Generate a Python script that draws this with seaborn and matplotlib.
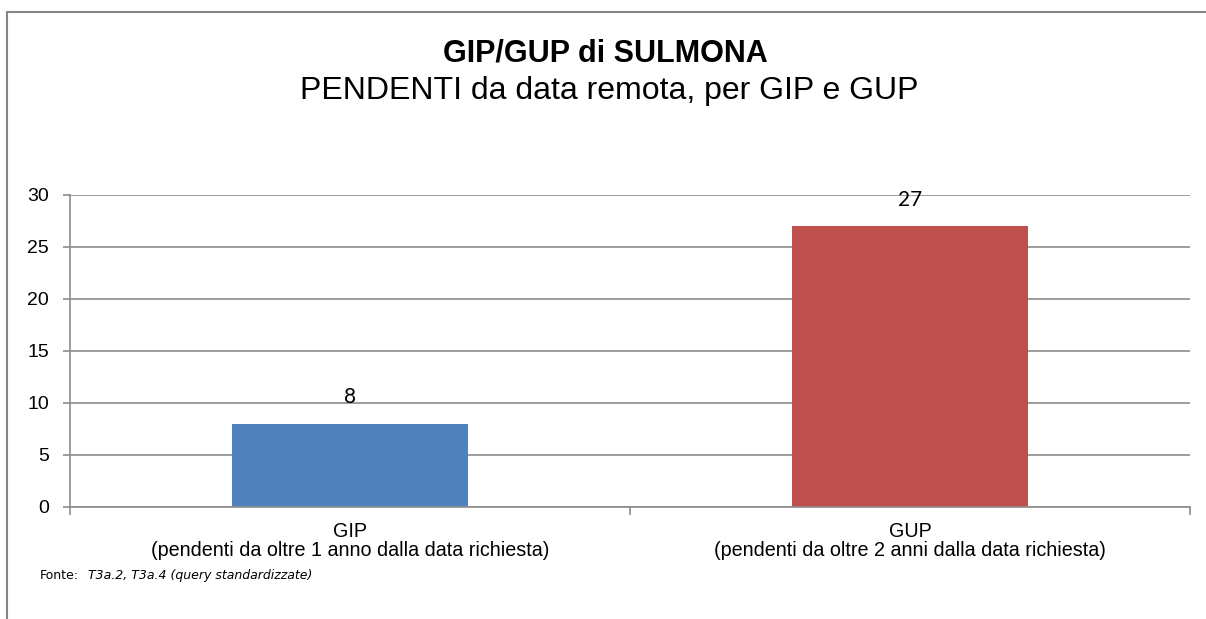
import matplotlib
matplotlib.use("Agg")
import matplotlib.pyplot as plt
from matplotlib.lines import Line2D
import seaborn as sns
import pandas as pd

# data
categories = ["GIP\n(pendenti da oltre 1 anno dalla data richiesta)",
              "GUP\n(pendenti da oltre 2 anni dalla data richiesta)"]
values = [8, 27]
bar_colors = ["#4F81BD", "#C0504D"]
y_ticks = [0, 5, 10, 15, 20, 25, 30]

title = "GIP/GUP di SULMONA"
subtitle = "PENDENTI da data remota, per GIP e GUP"

sns.set_theme(style="white")
plt.rcParams['font.family'] = ['Liberation Sans', 'DejaVu Sans']
plt.rcParams['text.color'] = 'black'
plt.rcParams['xtick.color'] = 'black'
plt.rcParams['ytick.color'] = 'black'

df = pd.DataFrame({"categoria": categories, "valore": values})

fig = plt.figure(figsize=(12.06, 6.19), dpi=100)
ax = fig.add_axes([0.058, 0.181, 0.9287, 0.504])

sns.barplot(data=df, x="categoria", y="valore", hue="categoria",
            palette=bar_colors, width=0.42, saturation=1, legend=False,
            linewidth=0, edgecolor="none", ax=ax)

ax.set_xlim(-0.5, 1.5)
ax.set_ylim(0, 30)
ax.set_yticks(y_ticks)
ax.yaxis.grid(True, color="#8c8c8c", linewidth=1.2)
ax.set_axisbelow(True)
ax.set_xlabel("")
ax.set_ylabel("")

# category boundaries carry the tick marks, labels sit in the middle
ax.set_xticks([-0.5, 0.5, 1.5])
ax.set_xticklabels([])
ax.set_xticks([0, 1], minor=True)
ax.set_xticklabels(categories, minor=True, fontsize=14.2, linespacing=0.97)
ax.tick_params(axis="x", which="major", direction="out", length=6,
               width=1.2, color="#8c8c8c", bottom=True)
ax.tick_params(axis="x", which="minor", length=0, pad=11, bottom=True,
               labelcolor="black")
ax.tick_params(axis="y", direction="out", length=5, width=1.2,
               color="#8c8c8c", left=True, labelsize=14, pad=10,
               labelcolor="black")

for side in ["top", "right"]:
    ax.spines[side].set_visible(False)
for side in ["left", "bottom"]:
    ax.spines[side].set_color("#8c8c8c")
    ax.spines[side].set_linewidth(1.2)

for cont in ax.containers:
    ax.bar_label(cont, padding=12, fontsize=15, color="black",
                 family=["Lato", "DejaVu Sans"])

fig.text(0.502, 0.913, title, ha="center", va="center",
         fontsize=22, fontweight="bold")
fig.text(0.505, 0.853, subtitle, ha="center", va="center", fontsize=23)

fig.text(0.033, 0.071, "Fonte:", ha="left", va="center", fontsize=9,
         family=["DejaVu Sans"])
fig.text(0.073, 0.071, "T3a.2, T3a.4 (query standardizzate)", ha="left",
         va="center", fontsize=9, style="italic", family=["DejaVu Sans"])

# outer frame: top and left edges
fig.add_artist(Line2D([0.0062, 1.0], [0.98, 0.98], transform=fig.transFigure,
                      color="#868686", linewidth=1.5))
fig.add_artist(Line2D([0.0062, 0.0062], [0.0, 0.98], transform=fig.transFigure,
                      color="#868686", linewidth=1.5))

fig.savefig("out.png", dpi=100)
